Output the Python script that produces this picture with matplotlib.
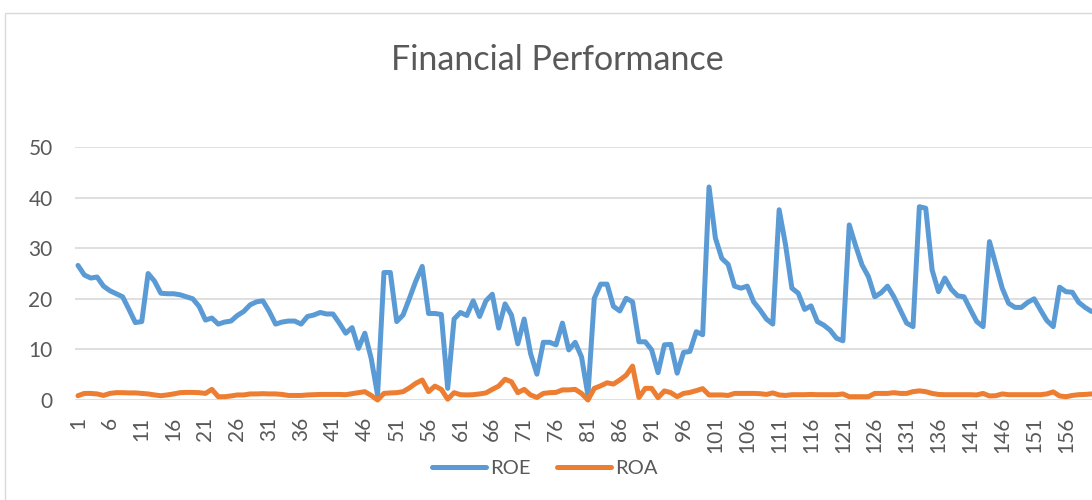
import matplotlib
matplotlib.use("Agg")
import matplotlib.pyplot as plt
from matplotlib.patches import Rectangle
import numpy as np

roe = [26.6, 24.7, 24.1, 24.3, 22.5, 21.6, 21.0, 20.4, 17.9, 15.3,
       15.5, 25.0, 23.5, 21.1, 21.0, 21.0, 20.8, 20.4, 20.0, 18.5,
       15.8, 16.2, 15.0, 15.4, 15.6, 16.7, 17.5, 18.8, 19.4, 19.6,
       17.5, 15.0, 15.4, 15.6, 15.6, 15.0, 16.5, 16.8, 17.3, 17.0,
       17.0, 15.2, 13.2, 14.3, 10.2, 13.2, 8.2, 1.0, 25.2, 25.2,
       15.5, 16.8, 20.1, 23.5, 26.4, 17.1, 17.1, 16.9, 2.3, 16.0,
       17.3, 16.7, 19.6, 16.5, 19.6, 20.9, 14.2, 19.0, 16.8, 11.1,
       16.0, 9.2, 5.1, 11.4, 11.4, 10.9, 15.2, 9.9, 11.4, 8.5,
       1.0, 20.1, 22.9, 22.9, 18.5, 17.6, 20.1, 19.4, 11.5, 11.5,
       9.9, 5.4, 10.9, 11.0, 5.3, 9.4, 9.6, 13.5, 12.9, 42.1,
       32.0, 28.0, 26.8, 22.5, 22.1, 22.5, 19.4, 17.8, 16.0, 15.0,
       37.6, 30.7, 22.1, 21.1, 17.9, 18.6, 15.5, 14.8, 13.8, 12.2,
       11.7, 34.6, 30.5, 26.7, 24.4, 20.4, 21.2, 22.5, 20.4, 17.8,
       15.2, 14.5, 38.2, 37.9, 25.7, 21.4, 24.1, 21.9, 20.6, 20.4,
       17.9, 15.5, 14.5, 31.3, 26.7, 22.1, 19.1, 18.3, 18.3, 19.3,
       20.0, 17.8, 15.7, 14.5, 22.3, 21.4, 21.3, 19.3, 18.3, 17.5]

roa = [0.85, 1.3, 1.3, 1.2, 0.9, 1.3, 1.45, 1.45, 1.4, 1.4,
       1.3, 1.2, 1.0, 0.85, 1.0, 1.2, 1.45, 1.5, 1.5, 1.45,
       1.3, 2.1, 0.65, 0.65, 0.8, 1.0, 1.0, 1.2, 1.2, 1.25,
       1.2, 1.2, 1.1, 0.9, 0.9, 0.9, 1.0, 1.05, 1.1, 1.1,
       1.1, 1.1, 1.05, 1.25, 1.45, 1.65, 0.9, 0.0, 1.3, 1.4,
       1.45, 1.65, 2.4, 3.3, 3.95, 1.65, 2.75, 2.1, 0.15, 1.45,
       1.05, 1.0, 1.05, 1.2, 1.4, 2.1, 2.75, 4.1, 3.6, 1.45,
       2.1, 1.0, 0.5, 1.3, 1.45, 1.5, 2.0, 2.0, 2.1, 1.3,
       0.0, 2.3, 2.8, 3.4, 3.15, 3.95, 4.9, 6.7, 0.5, 2.3,
       2.3, 0.45, 1.8, 1.45, 0.65, 1.3, 1.5, 1.85, 2.25, 1.0,
       1.0, 1.0, 0.9, 1.3, 1.3, 1.3, 1.3, 1.25, 1.1, 1.4,
       1.0, 0.9, 1.05, 1.05, 1.05, 1.1, 1.05, 1.05, 1.05, 1.05,
       1.2, 0.65, 0.65, 0.65, 0.65, 1.3, 1.3, 1.3, 1.45, 1.3,
       1.3, 1.65, 1.8, 1.65, 1.3, 1.1, 1.05, 1.05, 1.05, 1.05,
       1.05, 1.0, 1.3, 0.8, 0.85, 1.2, 1.05, 1.05, 1.05, 1.05,
       1.05, 1.05, 1.2, 1.6, 0.8, 0.65, 0.9, 1.05, 1.1, 1.2]

periods = list(range(1, len(roe) + 1))
tick_labels = [str(p) for p in periods[::5]]
y_ticks = [0, 10, 20, 30, 40, 50]

plt.rcParams['font.family'] = ['Lato', 'DejaVu Sans']

W, H = 1092, 500
fig = plt.figure(figsize=(W / 100, H / 100), dpi=100)

# outer chart border (cropped on right/bottom)
fig.patches.append(Rectangle((5 / W, -0.1), 1.2, 1 - 13 / H + 0.1,
                             transform=fig.transFigure, fill=False,
                             edgecolor='#d9d9d9', linewidth=1.0))

step = 6.374
left_px = 78 - step / 2
ax = fig.add_axes([left_px / W, 100 / H, len(roe) * step / W, 253 / H])

ax.plot(periods, roe, color='#5B9BD5', linewidth=3.6, label='ROE',
        solid_joinstyle='round', solid_capstyle='round', clip_on=False)
ax.plot(periods, roa, color='#ED7D31', linewidth=3.6, label='ROA',
        solid_joinstyle='round', solid_capstyle='round', clip_on=False)

ax.set_xlim(0.5, len(roe) + 0.5)
ax.set_ylim(0, 50)
ax.set_yticks(y_ticks)
ax.set_xticks(periods[::5])
ax.set_xticklabels(tick_labels, rotation=90)
ax.grid(axis='y', color='#d9d9d9', linewidth=1.2)
ax.set_axisbelow(True)
for s in ax.spines.values():
    s.set_visible(False)
ax.tick_params(axis='both', length=0, labelsize=15, labelcolor='#595959')
ax.tick_params(axis='y', pad=16)
ax.tick_params(axis='x', pad=12)

fig.text(557 / W, 1 - 60 / H, 'Financial Performance', ha='center', va='center',
         fontsize=24.5, color='#595959')

fig.legend(loc='center', bbox_to_anchor=(545 / W, 1 - 468 / H), ncol=2,
           frameon=False, fontsize=14.5, labelcolor='#595959',
           handlelength=2.7, columnspacing=1.3, handletextpad=0.2)

fig.savefig('out.png', dpi=100)
